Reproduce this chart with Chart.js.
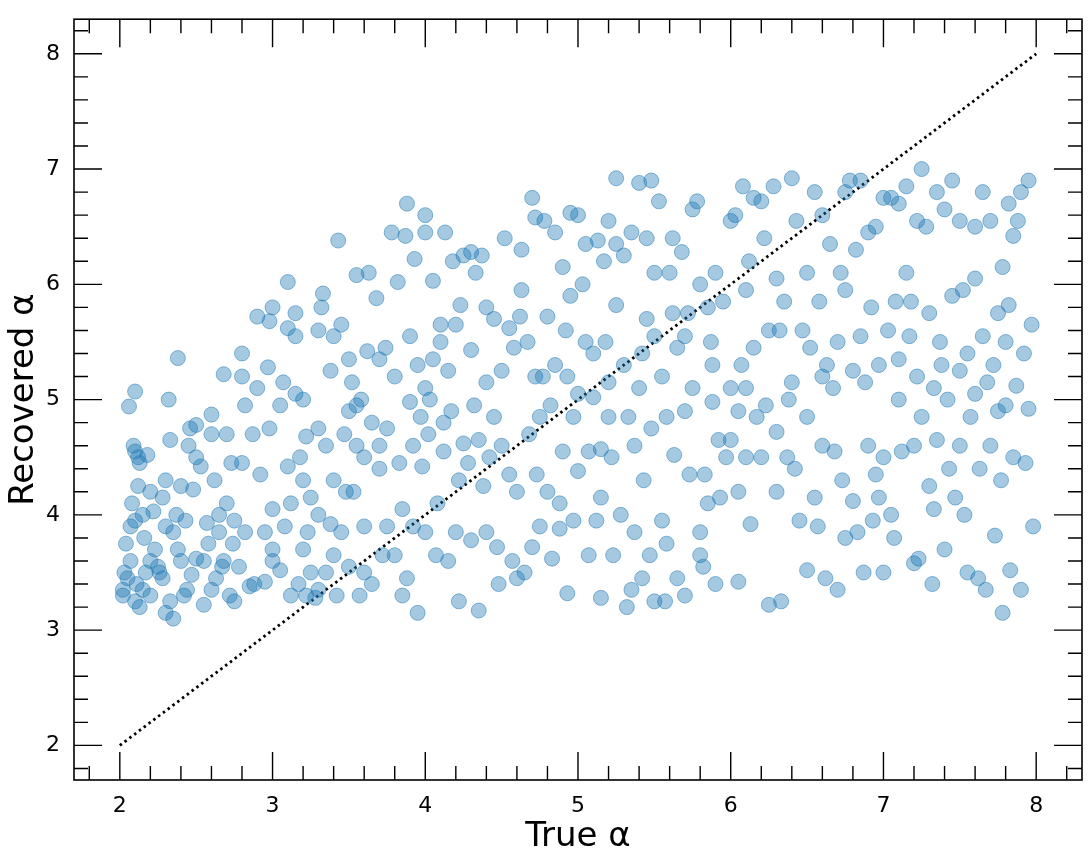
<!DOCTYPE html>
<html><head><meta charset="utf-8">
<script src="https://cdn.jsdelivr.net/npm/chart.js@4"></script>
<style>html,body{margin:0;padding:0;background:#fff}#wrap{width:1091px;height:862px}</style>
</head><body><div id="wrap"><canvas id="c" width="1091" height="862"></canvas></div>
<script>
const xTicks=[2,3,4,5,6,7,8];
const yTicks=[2,3,4,5,6,7,8];
const lineX=[2,8];
const lineY=[2,8];
const trueAlpha=[];
const recAlpha=[];
const pts=[
[2.02,3.3],[2.03,3.5],[2.05,3.45],[2.07,3.6],[2.04,3.75],[2.06,4.94],[2.1,5.07],[2.09,4.6],[2.1,4.55],[2.13,4.45],[2.12,4.5],[2.08,4.1],[2.07,3.9],[2.1,3.95],[2.12,4.25],[2.15,4.0],[2.13,3.2],[2.15,3.35],[2.1,3.25],[2.17,3.5],[2.2,3.3],[2.2,3.6],[2.18,4.52],[2.2,4.2],[2.22,4.03],[2.23,3.7],[2.25,3.55],[2.02,3.35],[2.11,3.4],[2.16,3.8],
[2.28,3.45],[2.3,3.15],[2.33,3.25],[2.3,4.3],[2.28,4.15],[2.3,3.9],[2.33,4.65],[2.32,5.0],[2.38,5.36],[2.35,3.1],[2.38,3.7],[2.4,3.6],[2.37,4.0],[2.4,4.25],[2.42,3.3],[2.43,3.95],[2.45,4.6],[2.46,4.75],[2.48,4.22],[2.47,3.48],[2.44,3.35],[2.5,3.62],[2.5,4.5],[2.5,4.78],[2.26,3.5],[2.35,3.85],
[2.53,4.42],[2.55,3.22],[2.57,3.93],[2.6,4.7],[2.6,4.87],[2.58,3.75],[2.6,3.35],[2.62,4.3],[2.63,3.45],[2.65,4.0],[2.65,3.85],[2.68,5.22],[2.7,4.7],[2.7,4.1],[2.68,3.6],[2.72,3.3],[2.73,4.45],[2.74,3.75],[2.75,3.95],[2.75,3.25],[2.55,3.6],[2.67,3.55],
[2.8,5.4],[2.8,5.2],[2.82,4.95],[2.78,3.55],[2.8,4.45],[2.82,3.85],[2.85,3.38],[2.87,4.7],[2.9,5.1],[2.9,5.72],[2.92,4.35],[2.95,3.42],[2.95,3.85],[2.97,5.28],[2.98,4.75],[3.0,4.05],[3.0,3.6],[3.0,3.7],[3.0,5.8],[2.98,5.68],[2.88,3.4],
[3.05,4.95],[3.07,5.15],[3.1,6.02],[3.1,5.62],[3.1,4.42],[3.08,3.9],[3.05,3.52],[3.12,4.1],[3.12,3.3],[3.15,5.55],[3.15,5.75],[3.17,3.4],[3.18,4.5],[3.2,3.7],[3.2,5.0],[3.22,4.68],[3.22,3.3],[3.25,4.15],[3.25,3.5],[3.23,3.85],[3.15,5.05],[3.2,4.3],
[3.28,3.28],[3.3,4.0],[3.3,4.75],[3.3,5.6],[3.32,5.8],[3.33,5.92],[3.35,4.6],[3.35,3.5],[3.38,3.92],[3.38,5.25],[3.4,5.55],[3.4,4.3],[3.42,3.3],[3.43,6.38],[3.45,5.65],[3.45,3.85],[3.47,4.7],[3.48,4.2],[3.5,4.9],[3.5,5.35],[3.5,3.55],[3.3,3.35],[3.4,3.65],
[3.52,5.15],[3.55,6.08],[3.55,4.95],[3.55,4.6],[3.57,3.3],[3.58,5.0],[3.6,4.5],[3.6,3.9],[3.62,5.42],[3.63,6.1],[3.65,4.8],[3.65,3.4],[3.68,5.88],[3.7,5.35],[3.7,4.4],[3.7,4.6],[3.72,3.65],[3.74,5.45],[3.75,3.9],[3.75,4.75],[3.6,3.5],[3.53,4.2],
[3.78,6.45],[3.8,5.2],[3.8,3.65],[3.82,6.02],[3.83,4.45],[3.85,3.3],[3.85,4.05],[3.87,6.42],[3.88,6.7],[3.9,5.55],[3.9,4.98],[3.92,3.9],[3.92,4.6],[3.93,6.22],[3.95,3.15],[3.95,5.3],[3.97,4.85],[3.98,4.42],[4.0,6.6],[4.0,6.45],[4.0,5.1],[4.0,3.85],[3.88,3.45],
[4.02,4.7],[4.03,5.0],[4.05,5.35],[4.05,6.03],[4.07,3.65],[4.08,4.1],[4.1,5.5],[4.1,5.65],[4.12,4.55],[4.13,6.45],[4.15,5.25],[4.15,3.6],[4.17,4.9],[4.18,6.2],[4.2,3.85],[4.2,5.65],[4.22,3.25],[4.22,4.3],[4.23,5.82],[4.25,4.62],[4.25,6.25],[4.12,4.8],
[4.28,4.45],[4.3,6.28],[4.3,5.43],[4.3,3.78],[4.32,4.95],[4.33,6.1],[4.35,3.17],[4.35,4.65],[4.37,6.25],[4.4,5.8],[4.4,5.15],[4.4,3.85],[4.42,4.5],[4.45,5.7],[4.45,4.85],[4.47,3.72],[4.5,4.6],[4.5,5.25],[4.48,3.4],[4.38,4.25],
[4.52,6.4],[4.55,5.62],[4.55,4.35],[4.57,3.6],[4.58,5.45],[4.6,4.2],[4.62,5.72],[4.63,6.3],[4.63,5.95],[4.65,3.5],[4.67,5.5],[4.68,4.7],[4.7,3.72],[4.7,6.75],[4.72,5.2],[4.72,6.58],[4.73,4.35],[4.75,4.85],[4.75,3.9],[4.6,3.45],
[4.77,5.2],[4.78,6.55],[4.8,5.72],[4.8,4.2],[4.83,3.62],[4.85,6.45],[4.85,5.3],[4.88,4.1],[4.88,3.88],[4.9,6.15],[4.9,4.55],[4.92,5.6],[4.93,3.32],[4.95,6.62],[4.95,5.9],[4.97,4.85],[4.97,3.95],[5.0,5.05],[5.0,4.38],[5.0,6.6],[4.82,4.95],[4.93,5.2],
[5.03,6.0],[5.05,6.35],[5.05,5.5],[5.07,4.55],[5.07,3.65],[5.1,5.4],[5.12,3.95],[5.13,6.38],[5.15,4.15],[5.15,3.28],[5.15,4.57],[5.17,6.2],[5.18,5.5],[5.2,6.55],[5.2,5.15],[5.22,4.5],[5.23,3.65],[5.25,6.92],[5.25,6.35],[5.25,5.82],[5.1,5.02],[5.2,4.85],
[5.28,4.0],[5.3,6.25],[5.3,5.3],[5.32,3.2],[5.33,4.85],[5.35,6.45],[5.37,3.85],[5.37,4.6],[5.4,6.88],[5.4,5.1],[5.42,3.45],[5.43,4.3],[5.45,6.4],[5.45,5.7],[5.47,3.65],[5.48,6.9],[5.48,4.75],[5.5,5.55],[5.5,3.25],[5.5,6.1],[5.35,3.35],[5.42,5.4],
[5.53,6.72],[5.55,5.2],[5.55,3.95],[5.57,3.25],[5.58,4.85],[5.6,6.1],[5.62,5.75],[5.63,4.52],[5.65,3.45],[5.65,5.45],[5.68,6.28],[5.7,3.3],[5.7,4.9],[5.72,5.75],[5.73,4.35],[5.75,6.65],[5.75,5.1],[5.62,6.4],[5.58,3.75],[5.7,5.55],
[5.78,6.72],[5.8,6.0],[5.8,3.85],[5.82,3.55],[5.83,4.35],[5.85,5.8],[5.85,4.1],[5.87,5.5],[5.88,5.3],[5.9,6.1],[5.9,3.4],[5.92,4.65],[5.93,4.15],[5.95,5.85],[5.97,4.5],[6.0,6.55],[6.0,5.1],[6.0,4.65],[5.8,3.65],[5.88,4.98],
[6.03,6.6],[6.05,4.2],[6.05,3.42],[6.07,5.3],[6.08,6.85],[6.1,4.5],[6.1,5.95],[6.12,6.2],[6.13,3.92],[6.15,6.75],[6.15,5.45],[6.17,4.85],[6.2,6.72],[6.2,4.5],[6.22,6.4],[6.23,4.95],[6.25,3.22],[6.25,5.6],[6.1,5.1],[6.05,4.9],
[6.28,6.85],[6.3,6.05],[6.3,4.2],[6.32,5.6],[6.33,3.25],[6.35,5.85],[6.37,4.5],[6.4,6.92],[6.4,5.15],[6.42,4.4],[6.43,6.55],[6.45,3.95],[6.47,5.6],[6.5,6.1],[6.5,4.85],[6.5,3.52],[6.3,4.72],[6.38,5.0],
[6.52,5.45],[6.55,6.8],[6.55,4.15],[6.57,3.9],[6.58,5.85],[6.6,6.6],[6.6,4.6],[6.62,3.45],[6.63,5.3],[6.65,6.35],[6.67,5.1],[6.7,3.35],[6.7,5.5],[6.72,6.1],[6.73,4.3],[6.75,6.8],[6.75,5.95],[6.75,3.8],[6.6,5.2],[6.68,4.55],
[6.78,6.9],[6.8,5.25],[6.8,4.12],[6.82,6.3],[6.83,3.85],[6.85,6.9],[6.85,5.55],[6.87,3.5],[6.9,6.45],[6.9,4.6],[6.92,5.8],[6.93,3.95],[6.95,6.5],[6.95,4.35],[6.97,5.3],[7.0,6.75],[7.0,4.5],[7.0,3.5],[6.88,5.15],[6.97,4.15],
[7.03,5.6],[7.05,6.75],[7.05,4.0],[7.07,3.8],[7.08,5.85],[7.1,6.7],[7.1,5.0],[7.12,4.55],[7.15,6.85],[7.15,6.1],[7.17,5.55],[7.2,4.6],[7.2,3.58],[7.22,6.55],[7.22,5.2],[7.25,4.85],[7.25,7.0],[7.1,5.35],[7.18,5.85],[7.23,3.62],
[7.28,6.5],[7.3,4.25],[7.3,5.75],[7.32,3.4],[7.33,5.1],[7.35,6.8],[7.35,4.65],[7.37,5.5],[7.4,6.65],[7.4,3.7],[7.42,5.0],[7.43,4.4],[7.45,6.9],[7.45,5.9],[7.47,4.15],[7.5,6.55],[7.5,4.6],[7.5,5.25],[7.38,5.3],[7.33,4.05],
[7.52,5.95],[7.55,3.5],[7.55,5.4],[7.57,4.85],[7.6,6.5],[7.6,5.05],[7.62,3.45],[7.63,4.4],[7.65,6.8],[7.65,5.55],[7.67,3.35],[7.7,6.55],[7.7,4.6],[7.72,5.3],[7.73,3.82],[7.75,5.75],[7.75,4.9],[7.6,6.05],[7.68,5.15],[7.53,4.0],
[7.78,6.15],[7.78,3.15],[7.8,4.95],[7.8,5.5],[7.82,6.7],[7.83,3.52],[7.85,6.42],[7.85,4.5],[7.87,5.12],[7.9,6.8],[7.9,3.35],[7.92,5.4],[7.93,4.45],[7.95,6.9],[7.95,4.92],[7.98,3.9],[7.97,5.65],[7.82,5.82],[7.88,6.55],[7.77,4.3]
];
pts.forEach(p=>{trueAlpha.push(p[0]);recAlpha.push(p[1]);});

const frame={id:'frame',afterDraw(ch){
  const c=ch.ctx,a=ch.chartArea,xs=ch.scales.x,ys=ch.scales.y;
  c.save();c.strokeStyle='#000';c.lineWidth=1.6;
  c.strokeRect(a.left,a.top,a.right-a.left,a.bottom-a.top);
  c.lineWidth=1.4;c.beginPath();
  for(let i=0;i<=35;i++){const v=1.8+i*0.2;if(v>8.25)break;
    const major=Math.abs(v-Math.round(v))<1e-6;const L=major?28:14;
    const px=xs.getPixelForValue(v),py=ys.getPixelForValue(v);
    c.moveTo(px,a.bottom);c.lineTo(px,a.bottom-L);
    c.moveTo(px,a.top);c.lineTo(px,a.top+L);
    c.moveTo(a.left,py);c.lineTo(a.left+L,py);
    c.moveTo(a.right,py);c.lineTo(a.right-L,py);}
  c.stroke();c.restore();}};

new Chart(document.getElementById('c'),{
  data:{datasets:[
    {type:'scatter',data:trueAlpha.map((x,i)=>({x:x,y:recAlpha[i]})),
     backgroundColor:'rgba(31,119,180,0.4)',borderColor:'rgba(31,119,180,0.5)',borderWidth:1,pointRadius:7.5,pointHoverRadius:7.5},
    {type:'line',data:lineX.map((x,i)=>({x:x,y:lineY[i]})),borderColor:'#000',borderWidth:2.8,borderDash:[2.5,3.5],pointRadius:0,fill:false}
  ]},
  options:{responsive:false,animation:false,events:[],
    layout:{padding:{top:10,right:9,left:0,bottom:0}},
    plugins:{legend:{display:false},tooltip:{enabled:false}},
    scales:{
      x:{type:'linear',min:1.7,max:8.3,afterFit(s){s.height=82;},
        afterBuildTicks(s){s.ticks=xTicks.map(v=>({value:v}));},
        grid:{display:false},border:{display:false},
        ticks:{color:'#000',font:{family:'DejaVu Sans',size:22},padding:5},
        title:{display:true,text:'True α',color:'#000',font:{family:'DejaVu Sans',size:34},padding:{top:0}}},
      y:{type:'linear',min:1.7,max:8.3,afterFit(s){s.width=74;},
        afterBuildTicks(s){s.ticks=yTicks.map(v=>({value:v}));},
        grid:{display:false},border:{display:false},
        ticks:{color:'#000',font:{family:'DejaVu Sans',size:22},padding:6},
        title:{display:true,text:'Recovered α',color:'#000',font:{family:'DejaVu Sans',size:34},padding:{bottom:0}}}
    }},
  plugins:[frame]});
</script></body></html>
